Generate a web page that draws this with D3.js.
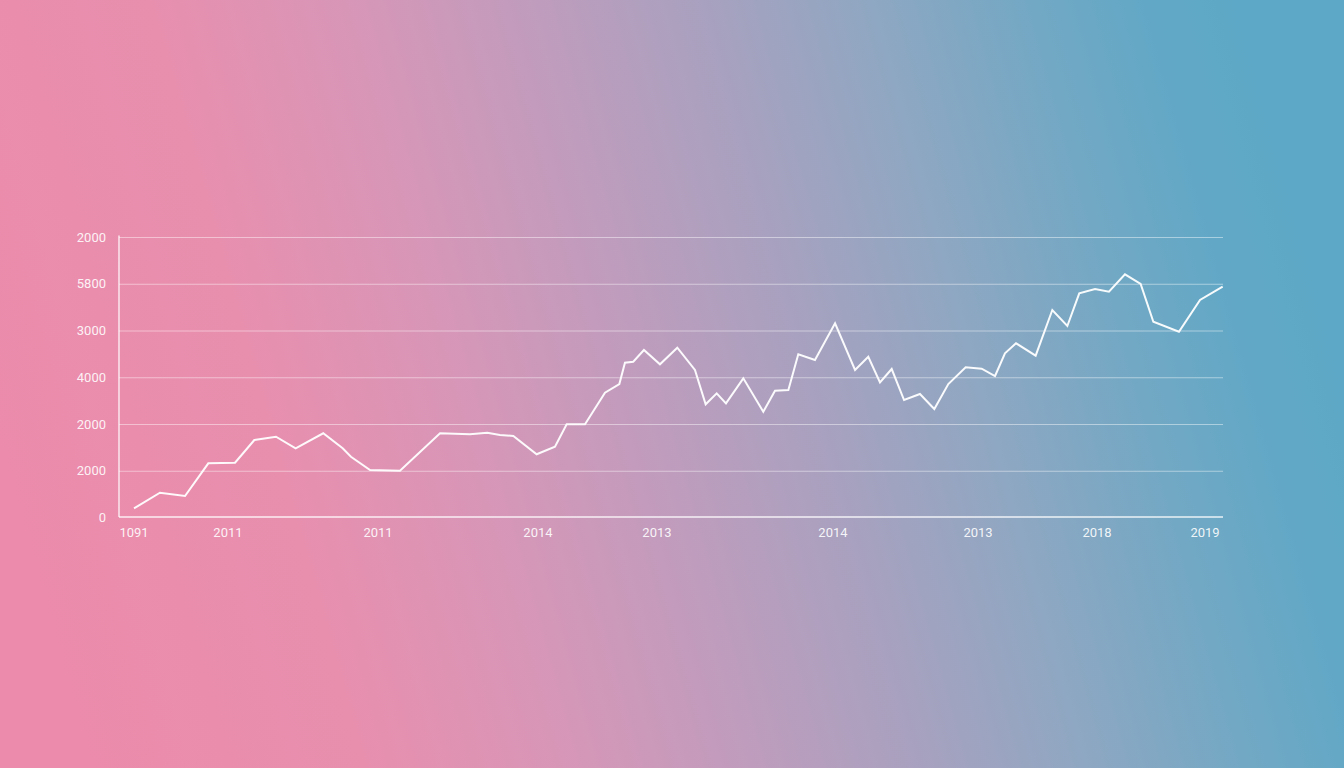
<!DOCTYPE html>
<html><head><meta charset="utf-8">
<script src="https://cdn.jsdelivr.net/npm/d3@7"></script>
<style>html,body{margin:0;padding:0;overflow:hidden}svg{display:block}</style>
</head><body>
<svg id="c" width="1344" height="768"></svg>
<script>
// Period (0-100) of each point
const periods = [1.36,3.71,5.98,8.09,10.51,12.26,14.22,16.0,18.5,20.26,21.01,22.74,25.45,29.08,31.79,33.36,34.51,35.72,37.83,39.49,40.55,42.21,44.02,45.32,45.83,46.58,47.55,49.0,50.57,52.17,53.14,54.14,54.98,56.55,58.36,59.42,60.63,61.53,63.04,64.86,66.67,67.87,68.93,69.99,71.11,72.55,73.85,75.12,76.69,78.14,79.35,80.25,81.25,83.03,84.54,85.9,86.98,88.41,89.67,91.12,92.54,93.69,96.01,97.92,99.97];
const values = [207,541,471,1170,1183,1668,1739,1491,1812,1491,1311,1027,1012,1812,1790,1825,1775,1754,1363,1525,2004,2004,2680,2866,3322,3343,3594,3288,3643,3166,2432,2667,2453,2988,2274,2723,2738,3502,3380,4165,3166,3450,2898,3187,2524,2652,2332,2866,3223,3194,3037,3523,3737,3472,4449,4107,4806,4898,4841,5213,5005,4199,3985,4663,4948];
const xTickPos = [1.36,9.87,23.46,37.95,48.73,64.67,77.81,88.59,98.37];
const xTickLabels = ["1091","2011","2011","2014","2013","2014","2013","2018","2019"];
const yTickVals = [0,1000,2000,3000,4000,5000,6000];
const yTickLabels = ["0","2000","2000","4000","3000","5800","2000"];

const svg = d3.select("#c");
const W = 1344, H = 768;
const defs = svg.append("defs");
const g1 = defs.append("linearGradient").attr("id","bg")
  .attr("x1","0%").attr("y1","58%").attr("x2","100%").attr("y2","42%");
[[0,"#ec8bab"],[0.2,"#e88fae"],[0.34,"#d896b7"],[0.48,"#bf9cbd"],[0.6,"#a8a1bf"],[0.72,"#8fa7c2"],[0.84,"#72a8c4"],[0.92,"#62a8c6"],[1,"#5ca8c6"]]
  .forEach(([o,c])=>g1.append("stop").attr("offset",o).attr("stop-color",c));
svg.append("rect").attr("width",W).attr("height",H).attr("fill","url(#bg)");

const x = d3.scaleLinear().domain([0,100]).range([119,1223]);
const y = d3.scaleLinear().domain([0,6000]).range([518,237.5]);

// gridlines
svg.append("g").selectAll("line").data(yTickVals.slice(1)).join("line")
  .attr("x1",x(0)).attr("x2",x(100))
  .attr("y1",d=>y(d)).attr("y2",d=>y(d))
  .attr("stroke","#fff").attr("stroke-opacity",0.45).attr("stroke-width",1);

// axes lines
svg.append("line").attr("x1",x(0)).attr("x2",x(100)).attr("y1",y(0)-1).attr("y2",y(0)-1)
  .attr("stroke","#fff").attr("stroke-opacity",0.85).attr("stroke-width",1.6);
svg.append("line").attr("x1",x(0)).attr("x2",x(0)).attr("y1",y(6000)-2).attr("y2",y(0)-1)
  .attr("stroke","#fff").attr("stroke-opacity",0.85).attr("stroke-width",1.4);

// y labels
svg.append("g").selectAll("text").data(yTickVals).join("text")
  .attr("x",106).attr("y",d=>y(d)+4)
  .attr("text-anchor","end")
  .attr("font-family","Roboto, 'Noto Sans', sans-serif").attr("font-size",13)
  .attr("fill","#fff").attr("fill-opacity",0.9)
  .text((d,i)=>yTickLabels[i]);

// x labels
svg.append("g").selectAll("text").data(xTickPos).join("text")
  .attr("x",d=>x(d)).attr("y",537)
  .attr("text-anchor","middle")
  .attr("font-family","Roboto, 'Noto Sans', sans-serif").attr("font-size",13)
  .attr("fill","#fff").attr("fill-opacity",0.9)
  .text((d,i)=>xTickLabels[i]);

// line
const pts = periods.map((p,i)=>[p,values[i]]);
svg.append("path").datum(pts)
  .attr("d", d3.line().x(d=>x(d[0])).y(d=>y(d[1])))
  .attr("fill","none").attr("stroke","#fff").attr("stroke-width",2)
  .attr("stroke-linejoin","miter").attr("stroke-opacity",0.95);
</script>
</body></html>
